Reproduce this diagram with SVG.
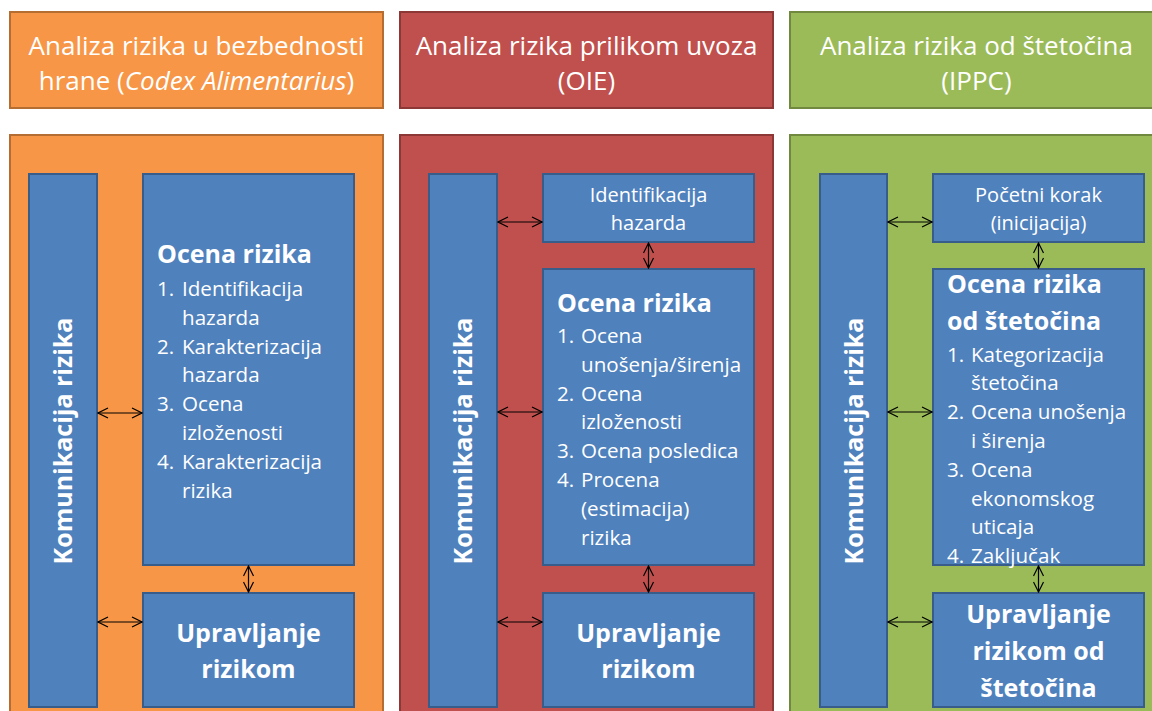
<svg xmlns="http://www.w3.org/2000/svg" width="1152" height="711" viewBox="0 0 1152 711">
<defs>
<marker id="ah" viewBox="0 0 12 12" refX="11" refY="6" markerWidth="12" markerHeight="12" markerUnits="userSpaceOnUse" orient="auto-start-reverse">
<path d="M1,1 L11,6 L1,11" fill="none" stroke="#000" stroke-width="1.2"/>
</marker>
</defs>
<style>
text{font-family:"Open Sans","Noto Sans","Liberation Sans",sans-serif;fill:#fff}
.hd{font-size:26px;text-anchor:middle}
.b{font-weight:bold;font-size:25px}
.bc{font-weight:bold;font-size:25px;text-anchor:middle}
.it{font-size:20.6px}
.sm{font-size:20px;text-anchor:middle}
.blue{fill:#4F81BD;stroke:#385D8A;stroke-width:2}
.or{fill:#F79646;stroke:#B66D31;stroke-width:2}
.rd{fill:#C0504D;stroke:#8C3836;stroke-width:2}
.gr{fill:#9BBB59;stroke:#71893F;stroke-width:2}
.cn{stroke:#000;stroke-width:1.2;fill:none;marker-start:url(#ah);marker-end:url(#ah)}
</style>
<rect width="1152" height="711" fill="#fff"/>

<g id="header-codex">
<rect class="or" x="10" y="12" width="373" height="96"/>
<text class="hd" x="196.5" y="55">Analiza rizika u bezbednosti</text>
<text class="hd" x="196.5" y="90">hrane (<tspan font-style="italic">Codex Alimentarius</tspan>)</text>
</g>
<g id="header-oie">
<rect class="rd" x="400" y="12" width="373" height="96"/>
<text class="hd" x="586.5" y="55">Analiza rizika prilikom uvoza</text>
<text class="hd" x="586.5" y="90">(OIE)</text>
</g>
<g id="header-ippc">
<rect class="gr" x="790" y="12" width="373" height="96"/>
<text class="hd" x="976.5" y="55">Analiza rizika od štetočina</text>
<text class="hd" x="976.5" y="90">(IPPC)</text>
</g>

<g id="panel-codex"><rect class="or" x="10" y="135" width="373" height="590"/></g>
<g id="panel-oie"><rect class="rd" x="400" y="135" width="373" height="590"/></g>
<g id="panel-ippc"><rect class="gr" x="790" y="135" width="373" height="590"/></g>

<g id="comm-codex">
<rect class="blue" x="29" y="174" width="68" height="533"/>
<text class="bc" transform="translate(72,441) rotate(-90)">Komunikacija rizika</text>
</g>
<g id="ocena-codex">
<rect class="blue" x="143" y="174" width="211" height="391"/>
<text class="b" x="157" y="263">Ocena rizika</text>
<text class="it" x="157" y="296">1.</text><text class="it" x="182" y="296">Identifikacija</text>
<text class="it" x="182" y="324.8">hazarda</text>
<text class="it" x="157" y="353.6">2.</text><text class="it" x="182" y="353.6">Karakterizacija</text>
<text class="it" x="182" y="382.4">hazarda</text>
<text class="it" x="157" y="411.2">3.</text><text class="it" x="182" y="411.2">Ocena</text>
<text class="it" x="182" y="440">izloženosti</text>
<text class="it" x="157" y="468.8">4.</text><text class="it" x="182" y="468.8">Karakterizacija</text>
<text class="it" x="182" y="497.6">rizika</text>
</g>
<g id="upravljanje-codex">
<rect class="blue" x="143" y="593" width="211" height="114"/>
<text class="bc" x="248.5" y="642">Upravljanje</text>
<text class="bc" x="248.5" y="678">rizikom</text>
</g>

<g id="comm-oie">
<rect class="blue" x="429" y="174" width="68" height="533"/>
<text class="bc" transform="translate(472,441) rotate(-90)">Komunikacija rizika</text>
</g>
<g id="ident-oie">
<rect class="blue" x="543" y="174" width="211" height="68"/>
<text class="sm" x="648.5" y="202">Identifikacija</text>
<text class="sm" x="648.5" y="230">hazarda</text>
</g>
<g id="ocena-oie">
<rect class="blue" x="543" y="269" width="211" height="296"/>
<text class="b" x="557" y="312">Ocena rizika</text>
<text class="it" x="557" y="343">1.</text><text class="it" x="581" y="343">Ocena</text>
<text class="it" x="581" y="371.8">unošenja/širenja</text>
<text class="it" x="557" y="400.6">2.</text><text class="it" x="581" y="400.6">Ocena</text>
<text class="it" x="581" y="429.4">izloženosti</text>
<text class="it" x="557" y="458.2">3.</text><text class="it" x="581" y="458.2">Ocena posledica</text>
<text class="it" x="557" y="487">4.</text><text class="it" x="581" y="487">Procena</text>
<text class="it" x="581" y="515.8">(estimacija)</text>
<text class="it" x="581" y="544.6">rizika</text>
</g>
<g id="upravljanje-oie">
<rect class="blue" x="543" y="593" width="211" height="114"/>
<text class="bc" x="648.5" y="642">Upravljanje</text>
<text class="bc" x="648.5" y="678">rizikom</text>
</g>

<g id="comm-ippc">
<rect class="blue" x="820" y="174" width="67" height="533"/>
<text class="bc" transform="translate(862.5,441) rotate(-90)">Komunikacija rizika</text>
</g>
<g id="pocetni-ippc">
<rect class="blue" x="933" y="174" width="211" height="68"/>
<text class="sm" x="1038.5" y="202">Početni korak</text>
<text class="sm" x="1038.5" y="230">(inicijacija)</text>
</g>
<g id="ocena-ippc">
<rect class="blue" x="933" y="269" width="211" height="296"/>
<text class="b" x="947" y="293">Ocena rizika</text>
<text class="b" x="947" y="330">od štetočina</text>
<text class="it" x="947" y="361.6">1.</text><text class="it" x="971" y="361.6">Kategorizacija</text>
<text class="it" x="971" y="390.4">štetočina</text>
<text class="it" x="947" y="419.2">2.</text><text class="it" x="971" y="419.2">Ocena unošenja</text>
<text class="it" x="971" y="448">i širenja</text>
<text class="it" x="947" y="476.8">3.</text><text class="it" x="971" y="476.8">Ocena</text>
<text class="it" x="971" y="505.6">ekonomskog</text>
<text class="it" x="971" y="534.4">uticaja</text>
<text class="it" x="947" y="563.2">4.</text><text class="it" x="971" y="563.2">Zaključak</text>
</g>
<g id="upravljanje-ippc">
<rect class="blue" x="933" y="593" width="211" height="114"/>
<text class="bc" x="1038.5" y="623">Upravljanje</text>
<text class="bc" x="1038.5" y="660">rizikom od</text>
<text class="bc" x="1038.5" y="697">štetočina</text>
</g>

<g id="connectors">
<line class="cn" x1="98" y1="413" x2="142" y2="413"/>
<line class="cn" x1="98" y1="622" x2="142" y2="622"/>
<line class="cn" x1="248.5" y1="566" x2="248.5" y2="592"/>
<line class="cn" x1="498" y1="222" x2="542" y2="222"/>
<line class="cn" x1="498" y1="412" x2="542" y2="412"/>
<line class="cn" x1="498" y1="622" x2="542" y2="622"/>
<line class="cn" x1="648.5" y1="243" x2="648.5" y2="268"/>
<line class="cn" x1="648.5" y1="566" x2="648.5" y2="592"/>
<line class="cn" x1="888" y1="222" x2="932" y2="222"/>
<line class="cn" x1="888" y1="412" x2="932" y2="412"/>
<line class="cn" x1="888" y1="622" x2="932" y2="622"/>
<line class="cn" x1="1038.5" y1="243" x2="1038.5" y2="268"/>
<line class="cn" x1="1038.5" y1="566" x2="1038.5" y2="592"/>
</g>
</svg>
